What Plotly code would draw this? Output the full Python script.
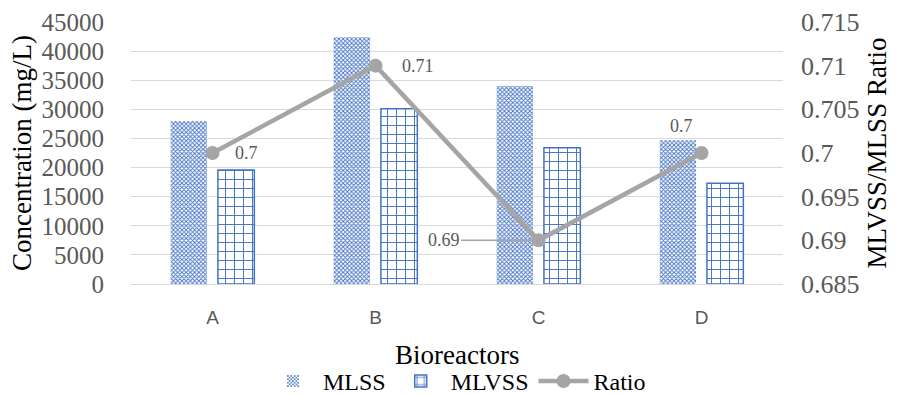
import plotly.graph_objects as go

categories = ["A", "B", "C", "D"]
mlss = [28000, 42400, 34000, 24700]
mlvss = [19600, 30100, 23400, 17300]
ratio = [0.70, 0.71, 0.69, 0.70]
ratio_labels = ["0.7", "0.71", "0.69", "0.7"]
y2_ticks = [0.685, 0.69, 0.695, 0.70, 0.705, 0.71, 0.715]
y2_ticktext = ["0.685", "0.69", "0.695", "0.7", "0.705", "0.71", "0.715"]
x_title = "Bioreactors"

BLUE = "#4472C4"
GRAY = "#A5A5A5"
TXT = "#595959"
SERIF = "Liberation Serif, Times New Roman, serif"

fig = go.Figure()
fig.add_trace(go.Bar(
    x=categories, y=mlss, name="MLSS",
    marker=dict(color="white", line=dict(width=0),
                pattern=dict(shape="x", fgcolor=BLUE, bgcolor="white",
                             size=3, solidity=0.5, fillmode="replace")),
))
fig.add_trace(go.Bar(
    x=categories, y=mlvss, name="MLVSS",
    marker=dict(color="white", line=dict(width=1.5, color=BLUE),
                pattern=dict(shape="+", fgcolor=BLUE, bgcolor="white",
                             size=9, solidity=0.2, fillmode="replace")),
))
fig.add_trace(go.Scatter(
    x=categories, y=ratio, name="Ratio", yaxis="y2",
    mode="lines+markers",
    line=dict(color=GRAY, width=4.5),
    marker=dict(color=GRAY, size=14),
))

# data labels
label_style = [
    dict(xshift=34, yshift=0, showarrow=False),
    dict(xshift=42, yshift=0, showarrow=False),
    dict(showarrow=True, ax=-95, ay=0),
    dict(xshift=-20, yshift=27, showarrow=False),
]
for c, v, t, st in zip(categories, ratio, ratio_labels, label_style):
    ann = dict(x=c, y=v, xref="x", yref="y2", text=t,
               font=dict(family=SERIF, size=18, color=TXT))
    if st.get("showarrow"):
        ann.update(showarrow=True, ax=st["ax"], ay=st["ay"], arrowhead=0,
                   arrowwidth=1.5, arrowcolor=GRAY, standoff=4)
    else:
        ann.update(showarrow=False, xshift=st["xshift"], yshift=st["yshift"])
    fig.add_annotation(**ann)

# x-axis title
fig.add_annotation(x=0.5, y=-0.271, xref="paper", yref="paper", text=x_title,
                   showarrow=False, yanchor="middle",
                   font=dict(family=SERIF, size=27, color="black"))

fig.update_layout(
    width=899, height=394,
    margin=dict(l=131, r=116, t=22, b=110, autoexpand=False),
    paper_bgcolor="white", plot_bgcolor="white",
    barmode="group", bargap=0.42, bargroupgap=0.23,
    font=dict(family=SERIF, color=TXT),
    xaxis=dict(
        showgrid=False, showline=False, ticks="",
        tickfont=dict(family="Liberation Sans, Arial, sans-serif", size=19, color=TXT),
        ticklabelstandoff=20,
        automargin=False,
    ),
    yaxis=dict(
        range=[0, 45000], dtick=5000, tickformat="d",
        showgrid=True, gridcolor="#D9D9D9", gridwidth=1.3,
        zeroline=True, zerolinecolor="#D9D9D9", zerolinewidth=1.3,
        showline=False, ticks="",
        tickfont=dict(family=SERIF, size=25, color=TXT),
        ticklabelstandoff=26,
        title=dict(text="Concentration (mg/L)", font=dict(family=SERIF, size=27, color="black"),
                   standoff=2),
        automargin=False,
    ),
    yaxis2=dict(
        overlaying="y", side="right",
        range=[0.685, 0.715], tickvals=y2_ticks, ticktext=y2_ticktext,
        showgrid=False, zeroline=False, showline=False, ticks="",
        tickfont=dict(family=SERIF, size=26, color=TXT),
        ticklabelstandoff=17,
        title=dict(text="MLVSS/MLSS Ratio", font=dict(family=SERIF, size=27, color="black"),
                   standoff=8),
        automargin=False,
    ),
    legend=dict(
        orientation="h", x=0.5, xanchor="center",
        yref="container", y=0.089, yanchor="top",
        font=dict(family=SERIF, size=24, color="black"),
        itemwidth=50, tracegroupgap=0,
    ),
)

fig.write_html("out.html")
